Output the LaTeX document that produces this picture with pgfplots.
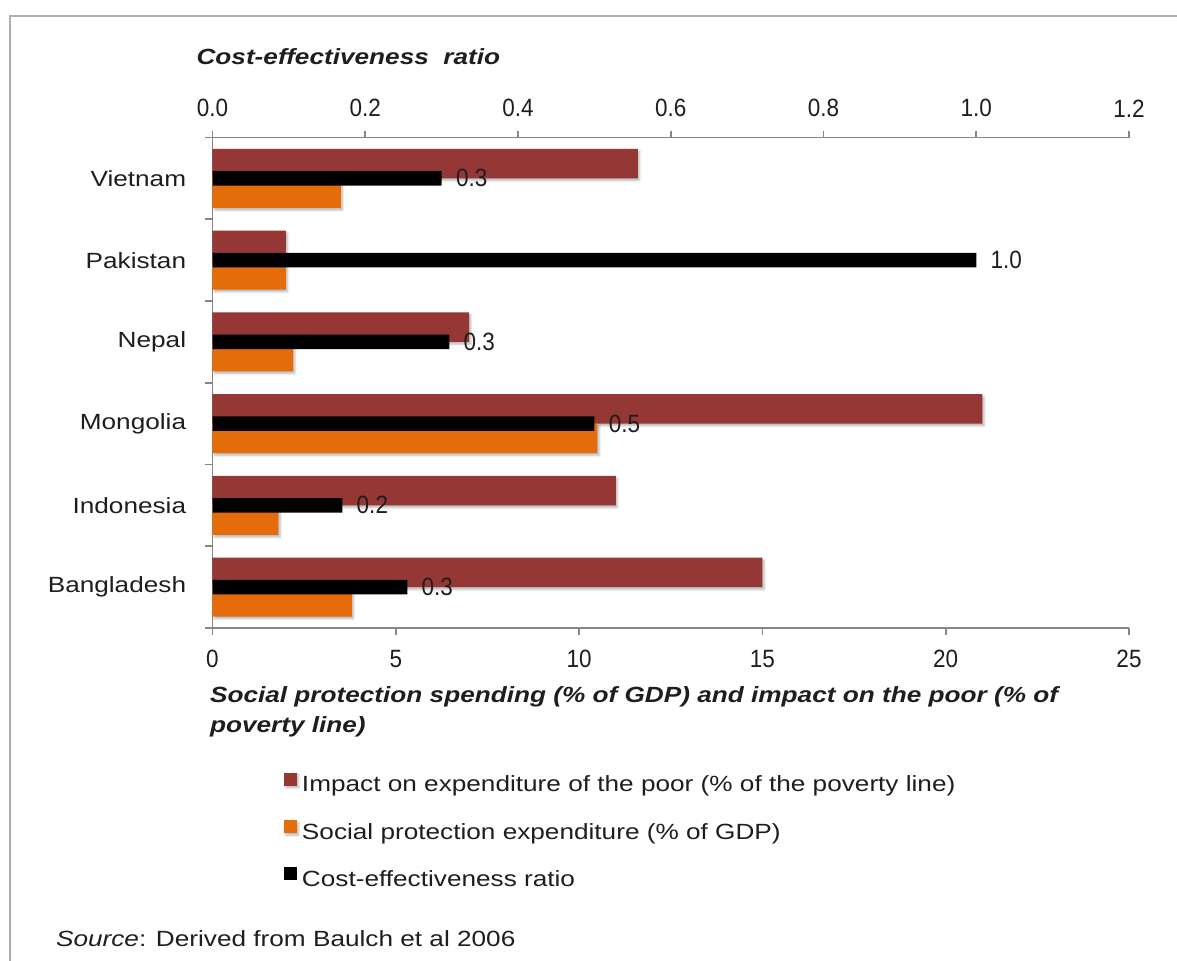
\documentclass[border=0pt]{standalone}
\usepackage{fontspec}
\setmainfont{Liberation Sans}[FakeStretch=1.19]
\newfontfamily\tickfont{Liberation Sans}[FakeStretch=0.9]
\usepackage{pgfplots}
\usepackage{pgfplotstable}
\pgfplotsset{compat=1.18}
\usetikzlibrary{shadows.blur}

\definecolor{impactred}{RGB}{149,55,53}
\definecolor{spendorange}{RGB}{228,108,10}
\definecolor{axisgray}{RGB}{134,134,134}
\definecolor{framegray}{RGB}{175,175,175}
\definecolor{textdark}{RGB}{30,30,30}

\newcommand\lblfont{\fontsize{11}{13}\selectfont}
\newcommand\tickfnt{\tickfont\fontsize{12.5}{14}\selectfont}

% idx 0 = bottom row
\pgfplotstableread{
idx country    impact spending ratio
0   Bangladesh 15.0   3.8      0.255
1   Indonesia  11.0   1.8      0.17
2   Mongolia   21.0   10.5     0.50
3   Nepal      7.0    2.2      0.31
4   Pakistan   2.0    2.0      1.00
5   Vietnam    11.6   3.5      0.30
}\datatable

\pgfplotsset{
  sqlegend/.style={legend image code/.code={\fill[##1] (0pt,0pt) rectangle (6.5pt,6.5pt);}},
  barshadow/.style={blur shadow={shadow xshift=0.9pt, shadow yshift=-1.1pt, shadow blur radius=1.1pt, shadow opacity=28}},
  common/.style={
    at={(0,0)}, anchor=south west, scale only axis,
    width=458.25pt, height=245.25pt,
    ymin=-0.5, ymax=5.5,
    tick align=outside, major tick length=3.5pt,
    axis line style={axisgray, line width=0.9pt, -},
    every tick/.style={axisgray, line width=0.9pt},
    /pgf/number format/assume math mode=true,
    tick label style={text=textdark},
  },
}

\begin{document}
\begin{tikzpicture}
\path[use as bounding box] (-106.25pt,-166pt) rectangle (482.25pt,314pt);
\draw[framegray, line width=1pt] (-101.25pt,-170pt) -- (-101.25pt,306pt) -- (490pt,306pt);

% spending and impact, bottom axis
\begin{axis}[common,
  xbar,
  xmin=0, xmax=25,
  axis x line*=bottom, axis y line*=left,
  xtick={0,5,10,15,20,25},
  xticklabel style={font=\tickfnt, inner sep=0pt, anchor=north, yshift=-7.5pt},
  ytick={-0.5,0.5,1.5,2.5,3.5,4.5,5.5}, yticklabels={},
  extra y ticks={0,1,2,3,4,5},
  extra y tick labels={Bangladesh,Indonesia,Mongolia,Nepal,Pakistan,Vietnam},
  extra y tick style={major tick length=0pt},
  yticklabel style={font=\lblfont, inner sep=0pt, anchor=east, xshift=-13pt},
  legend cell align=left,
  legend style={at={(axis description cs:0,0)}, anchor=north west,
    xshift=35.75pt, yshift=-72.3pt, draw=none, fill=none,
    inner sep=0pt, outer sep=0pt, row sep=11.2pt,
    font=\lblfont, text=textdark,
    nodes={inner sep=0pt, text height=9pt, text depth=3pt},
    /tikz/every odd column/.append style={column sep=2.5pt}},
]
\addplot[xbar, bar width=14.75pt, bar shift=7.375pt, fill=impactred, draw=none, barshadow, sqlegend]
  table[x=impact, y=idx] {\datatable};
\addlegendentry{Impact on expenditure of the poor (\% of the poverty line)}
\addplot[xbar, bar width=14.75pt, bar shift=-7.375pt, fill=spendorange, draw=none, barshadow, sqlegend]
  table[x=spending, y=idx] {\datatable};
\addlegendentry{Social protection expenditure (\% of GDP)}
\addlegendimage{sqlegend, fill=black, draw=none}
\addlegendentry{Cost-effectiveness ratio}
\end{axis}

% cost-effectiveness ratio, top axis
\begin{axis}[common,
  xbar,
  xmin=0, xmax=1.2,
  axis x line*=top, axis y line=none, ytick=\empty,
  xtick={0,0.2,0.4,0.6,0.8,1.0,1.2},
  xticklabel style={font=\tickfnt, inner sep=0pt, anchor=south, yshift=6.5pt},
  xticklabel={\pgfmathprintnumber[fixed, fixed zerofill, precision=1]{\tick}},
]
\addplot[xbar, bar width=7.25pt, bar shift=0pt, fill=black, draw=none,
  point meta=x,
  nodes near coords,
  nodes near coords style={anchor=west, inner sep=0pt, xshift=7pt, font=\tickfnt, text=textdark,
    /pgf/number format/fixed, /pgf/number format/fixed zerofill, /pgf/number format/precision=1}]
  table[x=ratio, y=idx] {\datatable};
\end{axis}

% axis titles and source line
\node[anchor=base west, font=\lblfont\bfseries\itshape, text=textdark] at (-11.5pt,281.5pt) {Cost-effectiveness~ ratio};
\node[anchor=base west, font=\lblfont\bfseries\itshape, text=textdark] at (-4.75pt,-37pt) {Social protection spending (\% of GDP) and impact on the poor (\% of};
\node[anchor=base west, font=\lblfont\bfseries\itshape, text=textdark] at (-4.75pt,-52pt) {poverty line)};
\node[anchor=base west, font=\lblfont, text=textdark] at (-81.75pt,-159pt) {\textit{Source}: Derived from Baulch et al 2006};
\end{tikzpicture}
\end{document}
